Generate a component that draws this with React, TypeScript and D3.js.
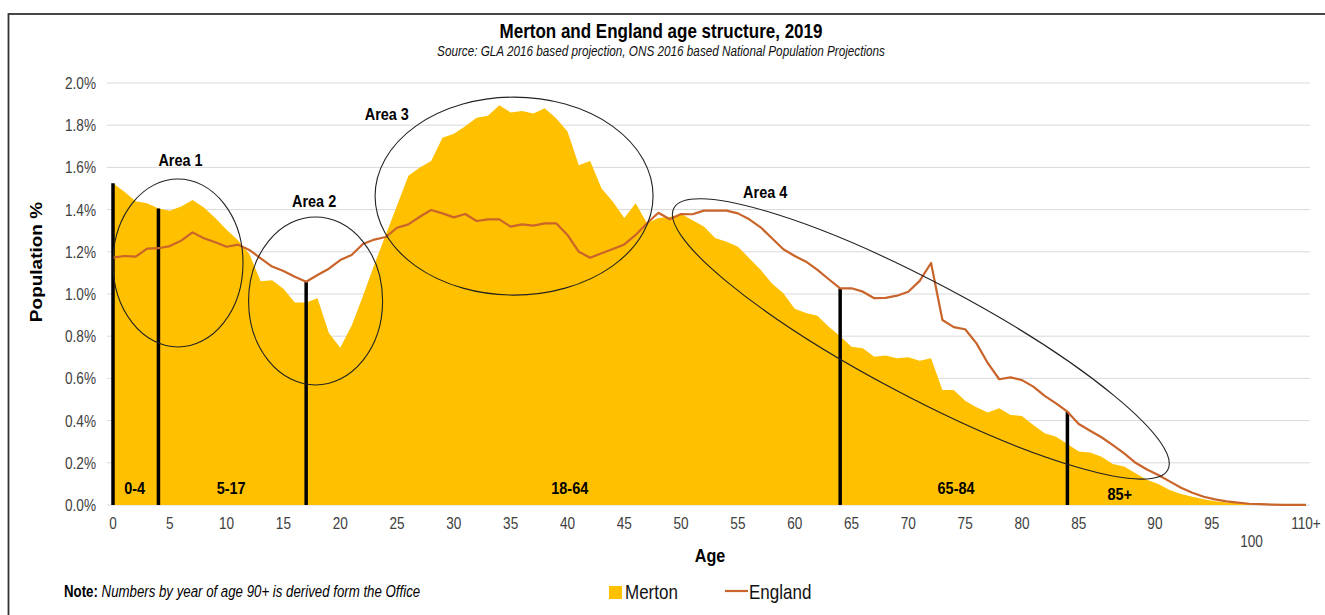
import React from "react";
import * as d3 from "d3";

// ---- data (percent of population by single year of age; last category "110+") ----
const merton: number[] = [
  1.525, 1.485, 1.44, 1.43, 1.405, 1.395, 1.415, 1.445, 1.41, 1.36,
  1.305, 1.255, 1.19, 1.06, 1.065, 1.025, 0.96, 0.96, 0.98, 0.815,
  0.745, 0.85, 0.99, 1.14, 1.28, 1.42, 1.56, 1.6, 1.63, 1.74,
  1.76, 1.795, 1.835, 1.845, 1.895, 1.86, 1.867, 1.856, 1.88, 1.833,
  1.77, 1.61, 1.63, 1.5, 1.437, 1.36, 1.43, 1.335, 1.36, 1.365,
  1.38, 1.35, 1.32, 1.265, 1.248, 1.224, 1.17, 1.115, 1.05, 1.003,
  0.93, 0.91, 0.897, 0.845, 0.8, 0.75, 0.743, 0.703, 0.708, 0.695,
  0.7, 0.684, 0.695, 0.545, 0.545, 0.494, 0.463, 0.438, 0.458, 0.427,
  0.422, 0.379, 0.34, 0.324, 0.289, 0.253, 0.249, 0.229, 0.194, 0.182,
  0.15, 0.12, 0.1, 0.071, 0.052, 0.039, 0.027, 0.018, 0.012, 0.008,
  0.005, 0.003, 0.002, 0.001, 0.001, 0.0005,
];

const england: number[] = [
  1.172, 1.18, 1.177, 1.215, 1.217, 1.227, 1.253, 1.292, 1.264, 1.245,
  1.224, 1.234, 1.209, 1.169, 1.13, 1.109, 1.082, 1.058, 1.09, 1.12,
  1.161, 1.185, 1.237, 1.258, 1.27, 1.314, 1.33, 1.366, 1.398, 1.382,
  1.363, 1.379, 1.346, 1.354, 1.354, 1.319, 1.33, 1.324, 1.335, 1.335,
  1.28, 1.2, 1.172, 1.193, 1.213, 1.235, 1.28, 1.335, 1.385, 1.354,
  1.379, 1.378, 1.395, 1.395, 1.395, 1.382, 1.354, 1.316, 1.264, 1.212,
  1.18, 1.153, 1.114, 1.07, 1.027, 1.027, 1.011, 0.98, 0.982, 0.992,
  1.011, 1.062, 1.147, 0.877, 0.843, 0.833, 0.766, 0.672, 0.596, 0.605,
  0.592, 0.561, 0.517, 0.482, 0.442, 0.384, 0.352, 0.321, 0.284, 0.245,
  0.2, 0.168, 0.142, 0.112, 0.082, 0.058, 0.039, 0.027, 0.017, 0.011,
  0.006, 0.004, 0.002, 0.001, 0.001, 0.001,
];

const yTicks: number[] = [0, 0.2, 0.4, 0.6, 0.8, 1.0, 1.2, 1.4, 1.6, 1.8, 2.0];
const xTickLabels: string[] = ["0", "5", "10", "15", "20", "25", "30", "35", "40", "45", "50", "55", "60", "65", "70", "75", "80", "85", "90", "95", "100", "110+"];
const xTickAt: number[] = [0, 5, 10, 15, 20, 25, 30, 35, 40, 45, 50, 55, 60, 65, 70, 75, 80, 85, 91.7, 96.7, 100.2, 105];

// age-band divider lines
const bandBreaks: number[] = [0, 4, 17, 64, 84];
const bandLabels: string[] = ["0-4", "5-17", "18-64", "65-84", "85+"];
const bandLabelAge: number[] = [1.9, 10.4, 40.2, 74.2, 88.6];

// annotation ellipses (centre in data units)
const areaNames: string[] = ["Area 1", "Area 2", "Area 3", "Area 4"];
const areaCx: number[] = [5.72, 17.83, 35.3, 71.1];
const areaCy: number[] = [1.147, 0.967, 1.464, 0.787];
const areaLabelAge: number[] = [5.94, 17.7, 24.1, 57.4];
const areaLabelVal: number[] = [1.606, 1.413, 1.825, 1.455];

const W = 1325;
const H = 615;
const SX = 0.85;
const FONT = "'Liberation Sans', Arial, Helvetica, sans-serif";

const T = ({ x, y, size, weight, italic, anchor, fill, rotate, children }: any) => (
  <text
    transform={`translate(${x},${y}) scale(${SX},1)${rotate ? ` rotate(${rotate})` : ""}`}
    fontSize={size}
    fontWeight={weight || "normal"}
    fontStyle={italic ? "italic" : "normal"}
    textAnchor={anchor || "start"}
    fill={fill || "#000"}
    fontFamily={FONT}
  >
    {children}
  </text>
);

export default function App() {
  const x = d3.scaleLinear().domain([0, 105]).range([113, 1306]);
  const y = d3.scaleLinear().domain([0, 2.0]).range([505, 83]);
  const idx = d3.range(merton.length);

  const area = d3
    .area<number>()
    .x((i) => x(i))
    .y0(y(0))
    .y1((i) => y(merton[i]));
  const line = d3
    .line<number>()
    .x((i) => x(i))
    .y((i) => y(england[i]));

  const ellipseR = [
    { rx: 65, ry: 84, rot: 0 },
    { rx: 67, ry: 84, rot: 0 },
    { rx: 139, ry: 99, rot: 0 },
    { rx: 279.5, ry: 57, rot: 27.9 },
  ];

  return (
    <svg width={W} height={H} style={{ position: "absolute", left: 0, top: 0, background: "#fff" }}>
      <rect x={0} y={0} width={W} height={H} fill="#fff" />
      {/* frame */}
      <rect x={8.5} y={14} width={1400} height={700} fill="none" stroke="#333" strokeWidth={1.8} />

      {/* titles */}
      <T x={661} y={38} size={20} weight="bold" anchor="middle">Merton and England age structure, 2019</T>
      <T x={661} y={56} size={13.8} italic anchor="middle" fill="#111">Source: GLA 2016 based projection, ONS 2016 based National Population Projections</T>

      {/* gridlines */}
      {yTicks.map((t) => (
        <line key={t} x1={107} x2={1310} y1={y(t)} y2={y(t)} stroke="#d9d9d9" strokeWidth={1} />
      ))}

      {/* y tick labels */}
      {yTicks.map((t) => (
        <T key={"yl" + t} x={96} y={y(t) + 6} size={16} anchor="end" fill="#404040">
          {t.toFixed(1) + "%"}
        </T>
      ))}

      {/* Merton area */}
      <path d={area(idx) || ""} fill="#FFC000" />

      {/* band divider lines */}
      {bandBreaks.map((a) => (
        <line
          key={"b" + a}
          x1={x(a)}
          x2={x(a)}
          y1={y(0)}
          y2={y(Math.max(merton[a], england[a]))}
          stroke="#000"
          strokeWidth={3.5}
        />
      ))}

      {/* England line */}
      <path d={line(idx) || ""} fill="none" stroke="#C9642A" strokeWidth={2.2} strokeLinejoin="round" />

      {/* band labels */}
      {bandLabels.map((b, i) => (
        <T key={b} x={x(bandLabelAge[i])} y={i === 4 ? 500 : 494} size={17} weight="bold" anchor="middle">
          {b}
        </T>
      ))}

      {/* ellipses */}
      {areaNames.map((n, i) => (
        <ellipse
          key={"e" + n}
          cx={0}
          cy={0}
          rx={ellipseR[i].rx}
          ry={ellipseR[i].ry}
          transform={`translate(${x(areaCx[i])},${y(areaCy[i])}) rotate(${ellipseR[i].rot})`}
          fill="none"
          stroke="#222"
          strokeWidth={1.1}
        />
      ))}
      {areaNames.map((n, i) => (
        <T key={"al" + n} x={x(areaLabelAge[i])} y={y(areaLabelVal[i])} size={17} weight="bold" anchor="middle">
          {n}
        </T>
      ))}

      {/* x tick labels */}
      {xTickLabels.map((l, i) => (
        <T key={"xl" + l} x={x(xTickAt[i])} y={l === "100" ? 547 : 529} size={16} anchor="middle" fill="#404040">
          {l}
        </T>
      ))}

      {/* axis titles */}
      <T x={710} y={562} size={19} weight="bold" anchor="middle">Age</T>
      <T x={42} y={262} size={19} weight="bold" anchor="middle" rotate={-90}>Population %</T>

      {/* note */}
      <text transform={`translate(64,597) scale(${SX},1)`} fontSize={15.6} fontFamily={FONT} fill="#000">
        <tspan fontWeight="bold">Note:</tspan>
        <tspan fontStyle="italic"> Numbers by year of age 90+ is derived form the Office</tspan>
      </text>

      {/* legend */}
      <rect x={609} y={586} width={13} height={13} fill="#FFC000" />
      <T x={625} y={599} size={20} fill="#111">Merton</T>
      <line x1={725} x2={748} y1={591} y2={591} stroke="#C9642A" strokeWidth={2.2} />
      <T x={749} y={599} size={20} fill="#111">England</T>
    </svg>
  );
}
